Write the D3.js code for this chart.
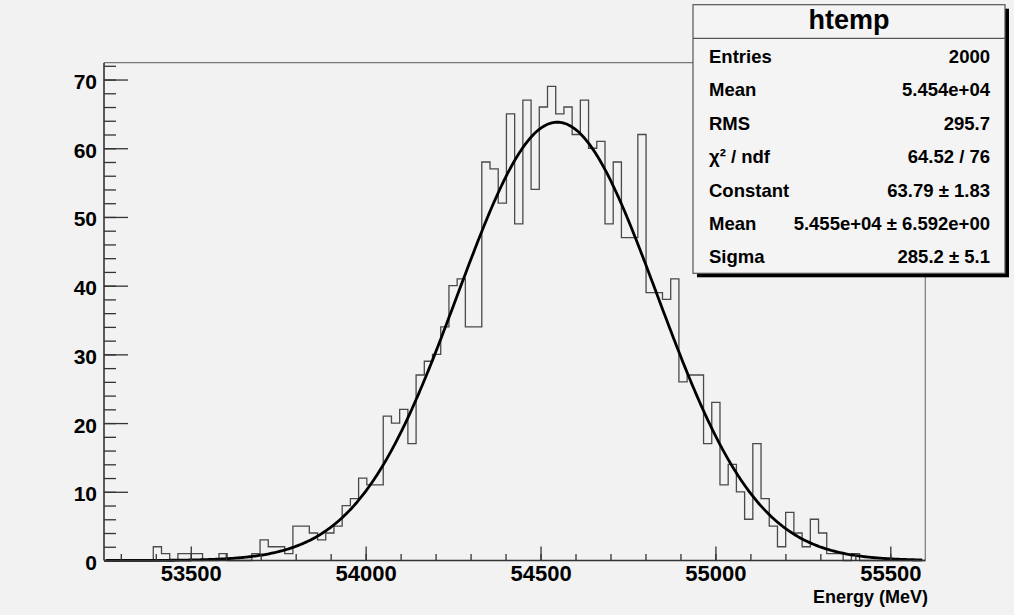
<!DOCTYPE html>
<html><head><meta charset="utf-8">
<script src="https://cdn.jsdelivr.net/npm/d3@7"></script>
<style>
body{margin:0;background:#f2f2f2}
text{font-family:"Liberation Sans",Arial,Helvetica,sans-serif;font-weight:bold;fill:#000}
</style>
</head><body>
<svg id="c" width="1014" height="615"></svg>
<script>
// ---- data ----
const binCounts = [
  0,0,0,0,0,0,2,1,0,1,
  1,1,0,0,1,0,0,0,1,3,
  2,2,1,5,5,4,3,4,5,8,
  9,12,11,11,21,20,22,17,27,29,
  30,34,40,41,34,34,58,57,52,65,
  49,67,54,66,69,65,66,62,67,60,
  61,49,58,47,47,62,39,39,38,41,
  26,27,27,17,23,11,14,10,6,17,
  9,5,2,7,4,2,6,4,1,1,
  0,1,0,0,0,0,0,0,0,0
];
const xRange = [53252, 55600];
const yMax = 72.45;
const xMajorTicks = [53500, 54000, 54500, 55000, 55500];
const xMinorTicks = [53300,53400,53500,53600,53700,53800,53900,54000,54100,54200,54300,54400,54500,54600,54700,54800,54900,55000,55100,55200,55300,55400,55500];
const yMajorTicks = [0,10,20,30,40,50,60,70];
const yMinorTicks = [0,2,4,6,8,10,12,14,16,18,20,22,24,26,28,30,32,34,36,38,40,42,44,46,48,50,52,54,56,58,60,62,64,66,68,70,72];
const fitConstant = 63.79, fitMean = 54548, fitSigma = 285.2;
const xTitle = "Energy (MeV)";
const statsTitle = "htemp";
const statsLabels = ["Entries","Mean","RMS","\u03c7\u00b2 / ndf","Constant","Mean","Sigma"];
const statsValues = ["2000","5.454e+04","295.7","64.52 / 76","63.79 \u00b1 1.83","5.455e+04 \u00b1 6.592e+00","285.2 \u00b1 5.1"];

// ---- layout ----
const L = 104, R = 925.3, T = 62.7, B = 560.5;
const svg = d3.select("#c");
svg.append("rect").attr("width",1014).attr("height",615).attr("fill","#f2f2f2");

const x = d3.scaleLinear().domain(xRange).range([L, R]);
const y = d3.scaleLinear().domain([0, yMax]).range([B, T]);

// frame top/right
svg.append("path").attr("d",`M${L},${T}H${R}V${B}`).attr("fill","none").attr("stroke","#777").attr("stroke-width",1.2);

// histogram
const nb = binCounts.length;
const bw = (xRange[1]-xRange[0])/nb;
const pts = [[xRange[0],0]];
binCounts.forEach((v,i)=>{ pts.push([xRange[0]+i*bw, v]); pts.push([xRange[0]+(i+1)*bw, v]); });
pts.push([xRange[1],0]);
const line = d3.line().x(d=>x(d[0])).y(d=>y(d[1]));
svg.append("path").attr("d",line(pts)).attr("fill","none").attr("stroke","#4a4a4a").attr("stroke-width",1.3);

// fit curve
const gx = d3.range(xRange[0]+8, xRange[1]-8, 4);
const gpts = gx.map(v=>[v, fitConstant*Math.exp(-0.5*Math.pow((v-fitMean)/fitSigma,2))]);
svg.append("path").attr("d",line(gpts)).attr("fill","none").attr("stroke","#000").attr("stroke-width",2.8).attr("stroke-linecap","round");

// y axis
const gy = svg.append("g").attr("transform",`translate(${L},0)`);
gy.call(d3.axisLeft(y).tickValues(yMinorTicks).tickSize(-12).tickFormat("")).select(".domain").remove();
gy.append("g").call(d3.axisLeft(y).tickValues(yMajorTicks).tickSize(-24).tickPadding(7).tickFormat(d3.format("d"))).select(".domain").remove();
gy.selectAll("line").attr("stroke","#333").attr("stroke-width",1.3);
gy.selectAll("text").attr("font-size",21).attr("dy","0.43em").style("font-family","'Liberation Sans',Arial,sans-serif").style("font-weight","bold");
gy.append("line").attr("x1",0).attr("x2",0).attr("y1",T).attr("y2",B).attr("stroke","#333").attr("stroke-width",1.6);

// x axis
const gxA = svg.append("g").attr("transform",`translate(0,${B})`);
gxA.call(d3.axisBottom(x).tickValues(xMinorTicks).tickSize(-6.5).tickFormat("")).select(".domain").remove();
gxA.append("g").call(d3.axisBottom(x).tickValues(xMajorTicks).tickSize(-14).tickPadding(5).tickFormat(d3.format("d"))).select(".domain").remove();
gxA.selectAll("line").attr("stroke","#333").attr("stroke-width",1.3);
gxA.selectAll("text").attr("font-size",22).style("font-family","'Liberation Sans',Arial,sans-serif").style("font-weight","bold");
gxA.append("line").attr("x1",L).attr("x2",R).attr("y1",0).attr("y2",0).attr("stroke","#333").attr("stroke-width",1.6);

svg.append("text").attr("x",928).attr("y",602.5).attr("text-anchor","end").attr("font-size",18).text(xTitle);

// stats box
const bx = 693, by = 4.7, bwid = 312, bh = 268.6;
svg.append("rect").attr("x",bx+4).attr("y",by+4).attr("width",bwid).attr("height",bh).attr("fill","#000");
svg.append("rect").attr("x",bx).attr("y",by).attr("width",bwid).attr("height",bh).attr("fill","#f4f4f4").attr("stroke","#555").attr("stroke-width",1.2);
svg.append("line").attr("x1",bx).attr("x2",bx+bwid).attr("y1",38.3).attr("y2",38.3).attr("stroke","#555").attr("stroke-width",1.2);
svg.append("text").attr("x",bx+bwid/2).attr("y",28.5).attr("text-anchor","middle").attr("font-size",27).text(statsTitle);
statsLabels.forEach((s,i)=>{
  svg.append("text").attr("x",709).attr("y",63+i*33.4).attr("font-size",18.5).text(s);
});
statsValues.forEach((s,i)=>{
  svg.append("text").attr("x",990).attr("y",63+i*33.4).attr("text-anchor","end").attr("font-size",18.5).text(s);
});
</script>
</body></html>
